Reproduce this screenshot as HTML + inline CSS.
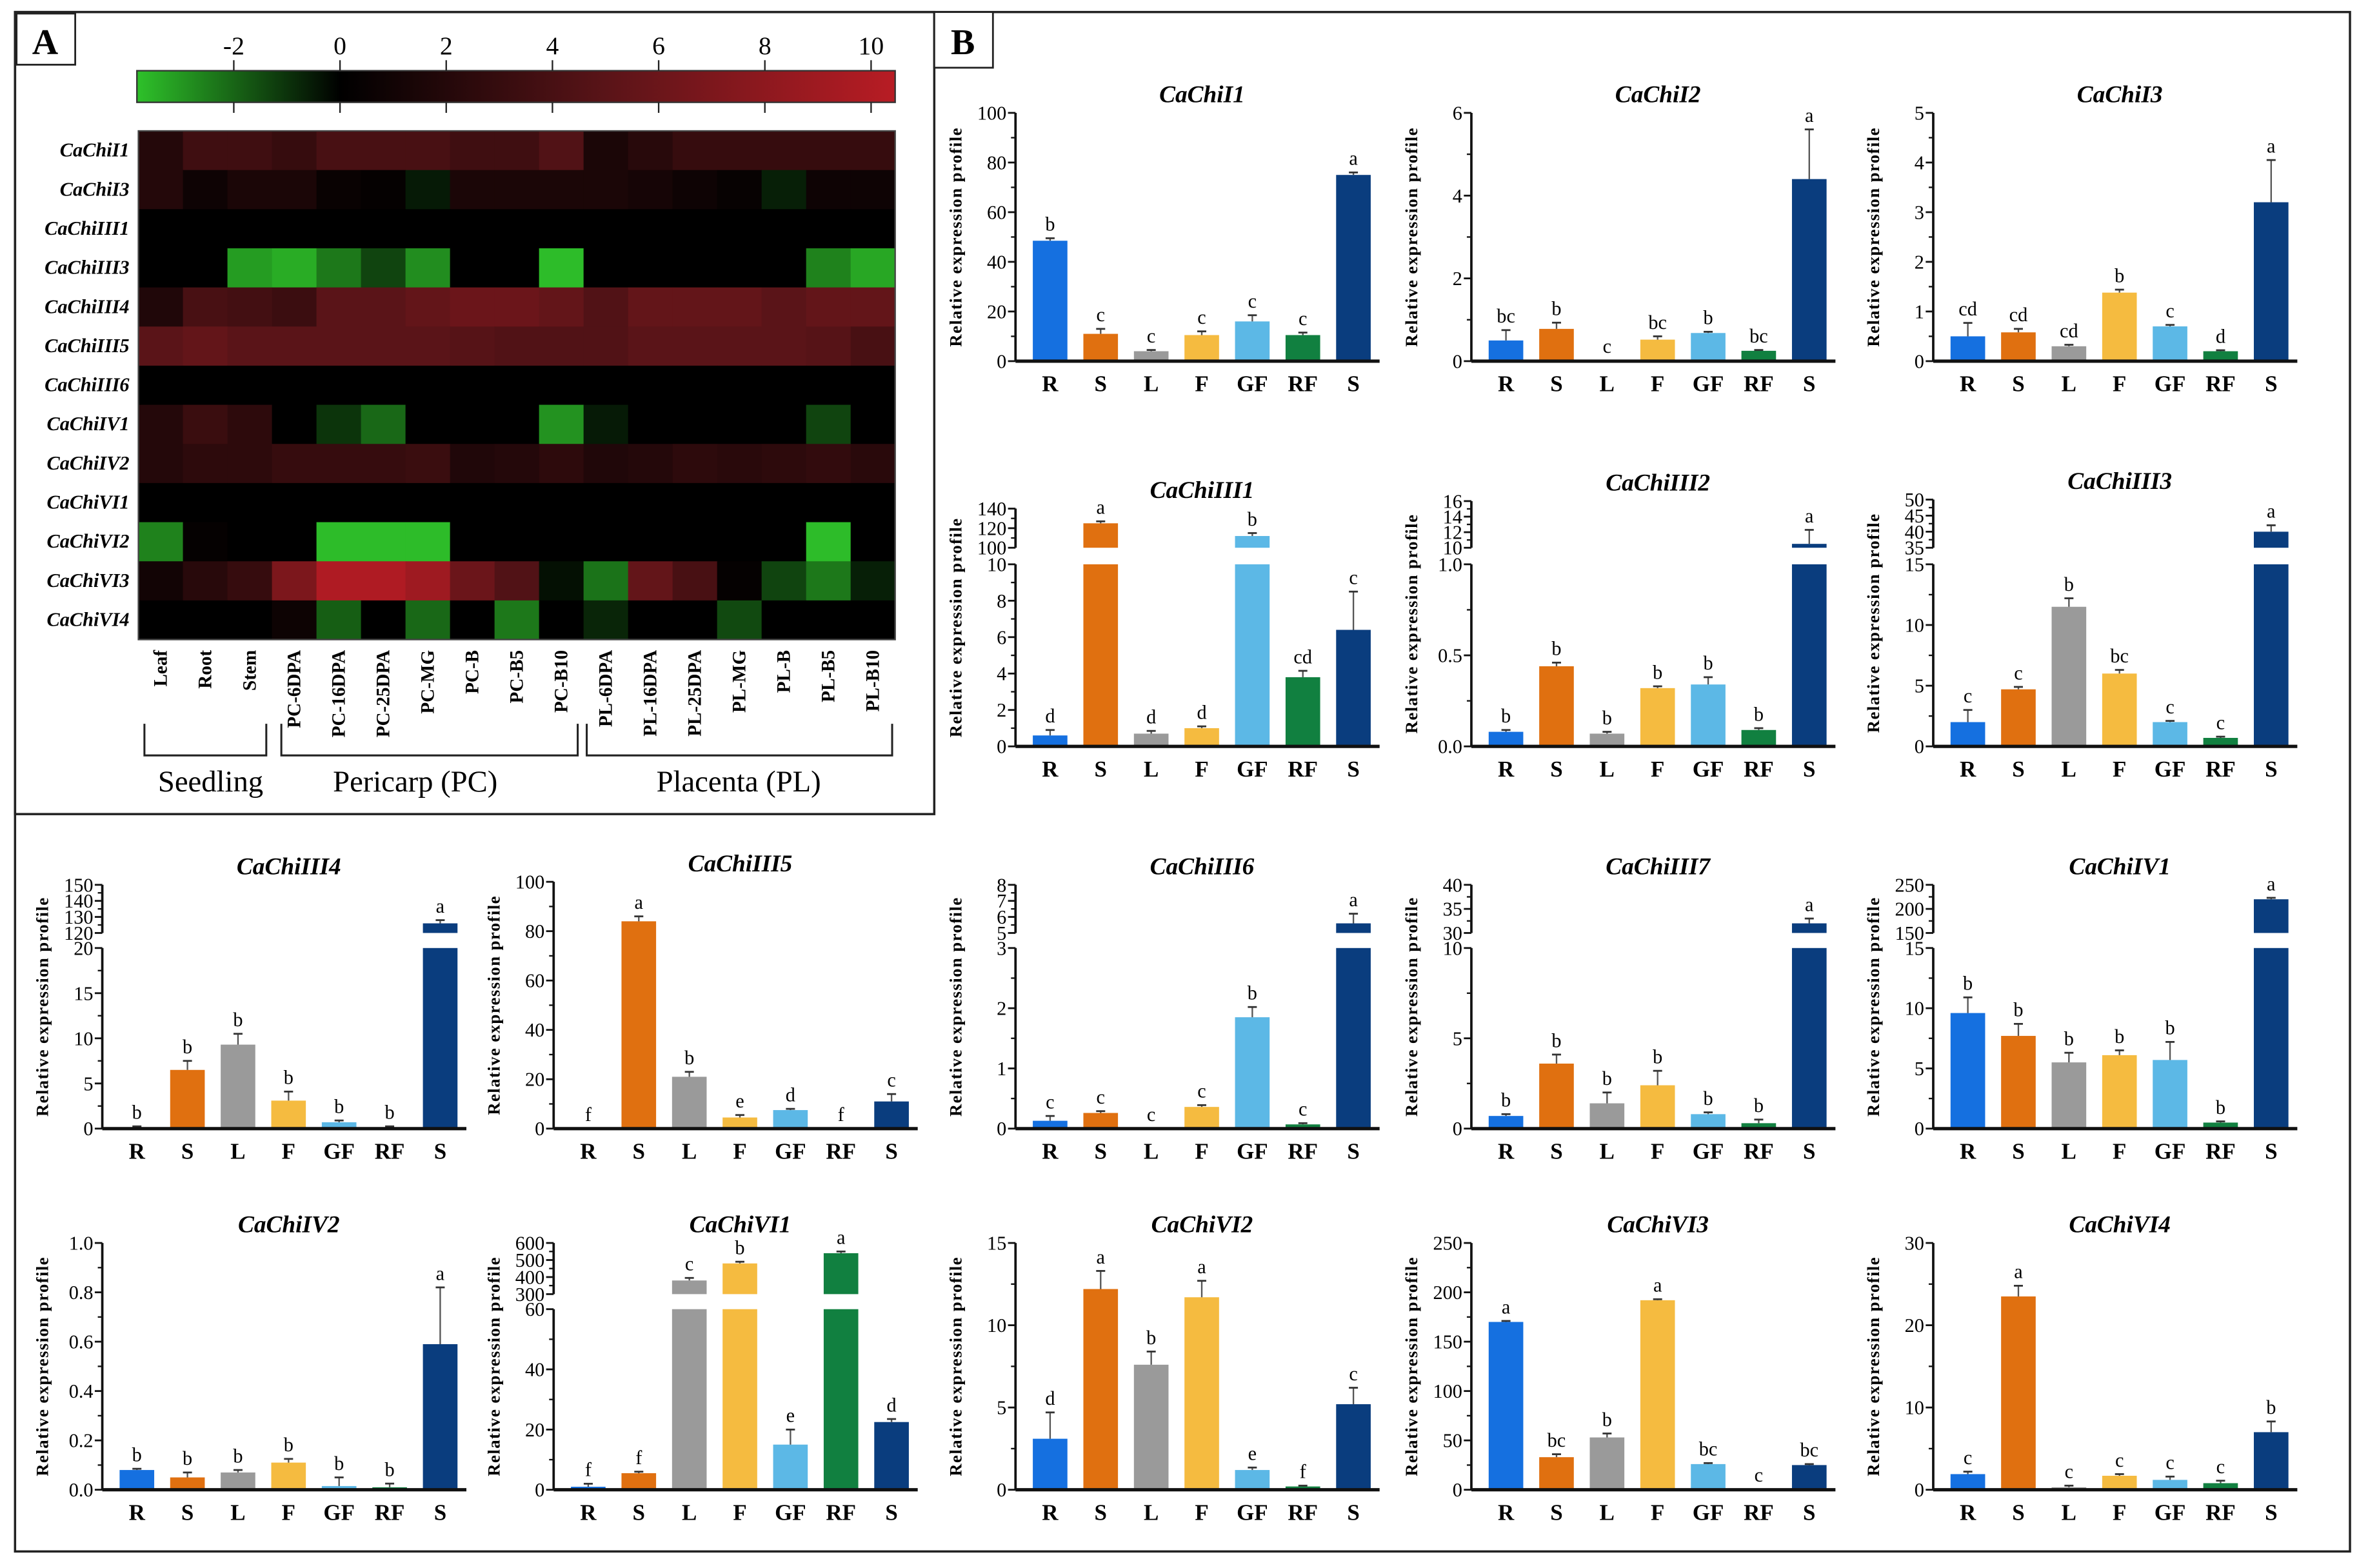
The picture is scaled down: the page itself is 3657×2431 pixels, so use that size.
<!DOCTYPE html>
<html><head><meta charset="utf-8">
<style>
html,body{margin:0;padding:0;background:#fff;}
svg{display:block;}
text{font-family:"Liberation Serif",serif;}
</style></head>
<body>
<svg id="fig" width="3657" height="2431" viewBox="0 0 1568 1042" preserveAspectRatio="none" xmlns="http://www.w3.org/2000/svg">
<defs>
<linearGradient id="cbar" x1="0" x2="1" y1="0" y2="0">
<stop offset="0" stop-color="#2ec12a"/>
<stop offset="0.268" stop-color="#000000"/>
<stop offset="0.62" stop-color="#5a1418"/>
<stop offset="1" stop-color="#b81c24"/>
</linearGradient>
</defs>
<rect x="10" y="8" width="1552" height="1023" fill="none" stroke="#222" stroke-width="1.5"/>
<rect x="10" y="8" width="611" height="533" fill="none" stroke="#222" stroke-width="1.5"/>
<rect x="11" y="9" width="39" height="34" fill="#fff" stroke="#222" stroke-width="1.2"/>
<text x="30" y="36" font-size="24" font-weight="bold" text-anchor="middle">A</text>
<rect x="621" y="8" width="39" height="37" fill="#fff" stroke="#222" stroke-width="1.2"/>
<text x="640" y="36" font-size="24" font-weight="bold" text-anchor="middle">B</text>
<rect x="91" y="47" width="504" height="21" fill="url(#cbar)" stroke="#333" stroke-width="1"/>
<g id="heat"></g>
<g id="charts"></g>
</svg>
<script>
const NS = "http://www.w3.org/2000/svg";
const heatRows = ["CaChiI1","CaChiI3","CaChiIII1","CaChiIII3","CaChiIII4","CaChiIII5","CaChiIII6","CaChiIV1","CaChiIV2","CaChiVI1","CaChiVI2","CaChiVI3","CaChiVI4"];
const heatCols = ["Leaf","Root","Stem","PC-6DPA","PC-16DPA","PC-25DPA","PC-MG","PC-B","PC-B5","PC-B10","PL-6DPA","PL-16DPA","PL-25DPA","PL-MG","PL-B","PL-B5","PL-B10"];
const heatValues = [
 [2,3.5,3.5,3,4,4,4,3.5,3.5,4.5,1.5,2.2,3,3,3,3,3],
 [2,0.8,1.5,1.5,0.5,0.3,-0.5,1.5,1.5,1.5,1.5,1.2,0.8,0.4,-0.6,0.8,0.8],
 [0,0,0,0,0,0,0,0,0,0,0,0,0,0,0,0,0],
 [0,0,-3,-3.3,-2.3,-1.3,-2.7,0,0,-3.6,0,0,0,0,0,-2.5,-3.2],
 [1.8,4,3.7,3.3,5,5,5.5,6,6,5.5,4.5,5.5,5.5,5.5,5,5.5,5.5],
 [5,5.5,5,5,5,5,5,4.8,4.5,4.5,4.5,5,5,5,5,4.8,4],
 [0,0,0,0,0,0,0,0,0,0,0,0,0,0,0,0,0],
 [2,3.2,2.5,0,-1,-2,0,0,0,-2.8,-0.5,0,0,0,0,-1.3,0],
 [2,2.5,2.5,3,3,3,3.2,1.8,2,2.5,1.8,2,2.5,2.3,2.5,2.8,2.3],
 [0,0,0,0,0,0,0,0,0,0,0,0,0,0,0,0,0],
 [-2.5,0.3,0,0,-3.6,-3.6,-3.6,0,0,0,0,0,0,0,0,-3.6,0],
 [1,2.2,3,7,10,10,9,6,4.5,-0.3,-2.2,5.5,4,0.3,-1.3,-2.3,-0.6],
 [0,0,0,0.7,-1.8,0,-2,0,-2.3,0,-0.7,0,0,-1.4,0,0,0]
];
const scaleTicks = [-2,0,2,4,6,8,10];

const xCats = ["R","S","L","F","GF","RF","S"];
const valsI1=[48.5,11,4,10.5,16,10.5,75], errI1=[1,2,0.5,1.5,2.5,1,1], letI1=["b","c","c","c","c","c","a"];
const valsI2=[0.5,0.78,0.02,0.52,0.68,0.25,4.4], errI2=[0.25,0.15,0,0.08,0.03,0.02,1.2], letI2=["bc","b","c","bc","b","bc","a"];
const valsI3=[0.5,0.58,0.3,1.38,0.7,0.2,3.2], errI3=[0.27,0.07,0.03,0.06,0.03,0.02,0.85], letI3=["cd","cd","cd","b","c","d","a"];
const valsIII1=[0.6,125,0.7,1.0,112,3.8,6.4], errIII1=[0.3,2,0.15,0.1,3,0.35,2.1], letIII1=["d","a","d","d","b","cd","c"];
const valsIII2=[0.08,0.44,0.07,0.32,0.34,0.09,10.5], errIII2=[0.01,0.02,0.01,0.01,0.04,0.01,1.8], letIII2=["b","b","b","b","b","b","a"];
const valsIII3=[2,4.7,11.5,6,2,0.7,40], errIII3=[1,0.2,0.7,0.3,0.1,0.1,2], letIII3=["c","c","b","bc","c","c","a"];
const valsIII4=[0.15,6.5,9.3,3.1,0.7,0.15,126], errIII4=[0.1,1,1.2,1,0.2,0.1,2], letIII4=["b","b","b","b","b","b","a"];
const valsIII5=[0,84,21,4.5,7.5,0,11], errIII5=[0,2,2,1,0.5,0,3], letIII5=["f","a","b","e","d","f","c"];
const valsIII6=[0.13,0.26,0,0.36,1.85,0.07,5.6], errIII6=[0.08,0.03,0,0.03,0.17,0.02,0.6], letIII6=["c","c","c","c","b","c","a"];
const valsIII7=[0.7,3.6,1.4,2.4,0.8,0.3,32], errIII7=[0.1,0.5,0.6,0.8,0.1,0.2,1], letIII7=["b","b","b","b","b","b","a"];
const valsIV1=[9.6,7.7,5.5,6.1,5.7,0.5,220], errIV1=[1.3,1,0.8,0.4,1.5,0.1,3], letIV1=["b","b","b","b","b","b","a"];
const valsIV2=[0.08,0.05,0.07,0.11,0.015,0.01,0.59], errIV2=[0.005,0.02,0.01,0.015,0.035,0.015,0.23], letIV2=["b","b","b","b","b","b","a"];
const valsVI1=[1,5.5,380,480,15,540,22.5], errVI1=[1,0.5,15,10,5,10,1], letVI1=["f","f","c","b","e","a","d"];
const valsVI2=[3.1,12.2,7.6,11.7,1.2,0.2,5.2], errVI2=[1.6,1.1,0.8,1.0,0.15,0.05,1], letVI2=["d","a","b","a","e","f","c"];
const valsVI3=[170,33,53,192,26,0.5,25], errVI3=[1,3,4,1,1,0,1], letVI3=["a","bc","b","a","bc","c","bc"];
const valsVI4=[1.9,23.5,0.3,1.7,1.2,0.8,7], errVI4=[0.3,1.3,0.2,0.2,0.4,0.3,1.3], letVI4=["c","a","c","c","c","c","b"];

const barColors=["#1570e0","#e07010","#9a9a9a","#f5bb40","#5cb8e6","#118040","#0a3d7e"];

function mk(tag, attrs, parent, txt){
  const el=document.createElementNS(NS,tag);
  for(const k in attrs) el.setAttribute(k,attrs[k]);
  if(txt!==undefined) el.textContent=txt;
  parent.appendChild(el);
  return el;
}
function lerp(a,b,t){return a+(b-a)*t;}
function mix(c1,c2,t){return "rgb("+[0,1,2].map(i=>Math.round(lerp(c1[i],c2[i],t))).join(",")+")";}
function heatColor(v){
  if(v<=0){const t=Math.min(1,-v/3.7);return mix([0,0,0],[46,193,42],t);}
  if(v<=5){return mix([0,0,0],[90,20,24],v/5);}
  return mix([90,20,24],[184,28,36],Math.min(1,(v-5)/5.5));
}

// ---------- Heatmap ----------
const heat=document.getElementById("heat");
const hx0=92,hx1=595,hy0=87,rowH=26;
const colW=(hx1-hx0)/heatCols.length;
const cbX=v=>226+v*35.3;
scaleTicks.forEach(t=>{
  const x=cbX(t);
  const tl=mk("line",{x1:x,x2:x,y1:40,y2:47,stroke:"#222","stroke-width":1},heat);
  
  
  const bl=mk("line",{x1:x,x2:x,y1:68,y2:75,stroke:"#222","stroke-width":1},heat);
  
  
  const tt=mk("text",{x:x,y:36,"font-size":17,"text-anchor":"middle"},heat,String(t));
  
  
});
heatValues.forEach((row,ri)=>{
  row.forEach((v,ci)=>{
    const r=mk("rect",{x:hx0+ci*colW,y:hy0+ri*rowH,width:colW+0.3,height:rowH+0.3,fill:heatColor(v)},heat);
    
    
  });
  const lb=mk("text",{x:86,y:hy0+ri*rowH+rowH/2+4,"font-size":13,"font-style":"italic","font-weight":"bold","text-anchor":"end"},heat,heatRows[ri]);
  
  
});
const hb=mk("rect",{x:hx0,y:hy0,width:hx1-hx0,height:rowH*heatRows.length,fill:"none",stroke:"#444","stroke-width":1},heat);


heatCols.forEach((c,ci)=>{
  const x=hx0+ci*colW+colW/2+4;
  const t=mk("text",{x:x,y:432,"font-size":12.5,"font-weight":"bold","text-anchor":"end",transform:"rotate(-90 "+x+" 432)"},heat,c);
  
  
});
[[96,177,"Seedling",140],[187,384,"Pericarp (PC)",276],[390,593,"Placenta (PL)",491]].forEach(g=>{
  const p=mk("path",{d:"M"+g[0]+" 481 V502 H"+g[1]+" V481",fill:"none",stroke:"#222","stroke-width":1.3},heat);
  
  
  const t=mk("text",{x:g[3],y:526,"font-size":20,"text-anchor":"middle"},heat,g[2]);
  
  
});

// ---------- Bar charts ----------
const charts=document.getElementById("charts");
const COLS=[68,368,675,978,1285];
const R1={yb:240,yt:75}, R2={yb:496,yt:375,yub:364,yut:335}, R3={yb:750,yt:630,yub:620,yut:588,full:586}, R4={yb:990,yt:870,yub:860,yut:826,full:826};
const chartDefs=[
 {t:"CaChiI1",ax:COLS[2],yb:R1.yb,yt:R1.yt,lmax:100,step:20,v:valsI1,e:errI1,l:letI1},
 {t:"CaChiI2",ax:COLS[3],yb:R1.yb,yt:R1.yt,lmax:6,step:2,v:valsI2,e:errI2,l:letI2},
 {t:"CaChiI3",ax:COLS[4],yb:R1.yb,yt:R1.yt,lmax:5,step:1,v:valsI3,e:errI3,l:letI3},
 {t:"CaChiIII1",ax:COLS[2],yb:R2.yb,yt:R2.yt,lmax:10,step:2,v:valsIII1,e:errIII1,l:letIII1,b:{umin:100,umax:140,step:20,yub:R2.yub,yut:338}},
 {t:"CaChiIII2",ax:COLS[3],yb:R2.yb,yt:R2.yt,lmax:1,step:0.5,dec:1,v:valsIII2,e:errIII2,l:letIII2,b:{umin:10,umax:16,step:2,yub:R2.yub,yut:333}},
 {t:"CaChiIII3",ax:COLS[4],yb:R2.yb,yt:R2.yt,lmax:15,step:5,v:valsIII3,e:errIII3,l:letIII3,b:{umin:35,umax:50,step:5,yub:R2.yub,yut:332}},
 {t:"CaChiIII4",ax:COLS[0],yb:R3.yb,yt:R3.yt,lmax:20,step:5,v:valsIII4,e:errIII4,l:letIII4,b:{umin:120,umax:150,step:10,yub:R3.yub,yut:R3.yut}},
 {t:"CaChiIII5",ax:COLS[1],yb:R3.yb,yt:R3.full,lmax:100,step:20,v:valsIII5,e:errIII5,l:letIII5},
 {t:"CaChiIII6",ax:COLS[2],yb:R3.yb,yt:R3.yt,lmax:3,step:1,v:valsIII6,e:errIII6,l:letIII6,b:{umin:5,umax:8,step:1,yub:R3.yub,yut:R3.yut}},
 {t:"CaChiIII7",ax:COLS[3],yb:R3.yb,yt:R3.yt,lmax:10,step:5,v:valsIII7,e:errIII7,l:letIII7,b:{umin:30,umax:40,step:5,yub:R3.yub,yut:R3.yut}},
 {t:"CaChiIV1",ax:COLS[4],yb:R3.yb,yt:R3.yt,lmax:15,step:5,v:valsIV1,e:errIV1,l:letIV1,b:{umin:150,umax:250,step:50,yub:R3.yub,yut:R3.yut}},
 {t:"CaChiIV2",ax:COLS[0],yb:R4.yb,yt:R4.full,lmax:1,step:0.2,dec:1,v:valsIV2,e:errIV2,l:letIV2},
 {t:"CaChiVI1",ax:COLS[1],yb:R4.yb,yt:R4.yt,lmax:60,step:20,v:valsVI1,e:errVI1,l:letVI1,b:{umin:300,umax:600,step:100,yub:R4.yub,yut:R4.yut}},
 {t:"CaChiVI2",ax:COLS[2],yb:R4.yb,yt:R4.full,lmax:15,step:5,v:valsVI2,e:errVI2,l:letVI2},
 {t:"CaChiVI3",ax:COLS[3],yb:R4.yb,yt:R4.full,lmax:250,step:50,v:valsVI3,e:errVI3,l:letVI3},
 {t:"CaChiVI4",ax:COLS[4],yb:R4.yb,yt:R4.full,lmax:30,step:10,v:valsVI4,e:errVI4,l:letVI4}
];

function fmt(v,dec){return dec?v.toFixed(dec):String(Math.round(v));}

function drawAxisSeg(g,ax,y0,y1,min,max,step,dec){
  const ln=mk("line",{x1:ax,x2:ax,y1:y0,y2:y1,stroke:"#111","stroke-width":1.6},g);
  
  
  const n=Math.round((max-min)/step);
  for(let i=0;i<=n;i++){
    const v=min+i*step, y=y0-(v-min)/(max-min)*(y0-y1);
    const tk=mk("line",{x1:ax-5,x2:ax,y1:y,y2:y,stroke:"#111","stroke-width":1.2},g);
    
    
    const tl=mk("text",{x:ax-6,y:y+4.5,"font-size":13,"text-anchor":"end"},g,fmt(v,dec));
    
    
    if(i<n){
      const ym=y-(y0-y1)/n/2;
      const mt=mk("line",{x1:ax-3,x2:ax,y1:ym,y2:ym,stroke:"#111","stroke-width":1},g);
      
      
    }
  }
}

chartDefs.forEach(c=>{
  const g=mk("g",{},charts);
  
  
  const top=c.b?c.b.yut:c.yt;
  const yOf=v=>{
    if(!c.b||v<=c.lmax) return c.yb-Math.min(v,c.lmax)/c.lmax*(c.yb-c.yt);
    return c.b.yub-(v-c.b.umin)/(c.b.umax-c.b.umin)*(c.b.yub-c.b.yut);
  };
  const tt=mk("text",{x:c.ax+124,y:top-7,"font-size":16,"font-style":"italic","font-weight":"bold","text-anchor":"middle"},g,c.t);
  
  
  const ylx=c.ax-36, yly=(c.yb+top)/2;
  const yl=mk("text",{x:ylx,y:yly,"font-size":11.5,"font-weight":"bold","text-anchor":"middle","letter-spacing":"0.6",transform:"rotate(-90 "+ylx+" "+yly+")"},g,"Relative expression profile");
  
  
  drawAxisSeg(g,c.ax,c.yb,c.yt,0,c.lmax,c.step,c.dec);
  if(c.b) drawAxisSeg(g,c.ax,c.b.yub,c.b.yut,c.b.umin,c.b.umax,c.b.step,0);
  c.v.forEach((v,i)=>{
    const cx=c.ax+23+i*33.6, w=23;
    let r;
    if(c.b&&v>c.lmax){
      r=mk("rect",{x:cx-w/2,y:c.yt,width:w,height:c.yb-c.yt,fill:barColors[i]},g);
      const r2=mk("rect",{x:cx-w/2,y:yOf(v),width:w,height:Math.max(1.5,c.b.yub-yOf(v)),fill:barColors[i]},g);
      
      
    } else {
      const y=yOf(v);
      r=mk("rect",{x:cx-w/2,y:y,width:w,height:Math.max(0.5,c.yb-y),fill:barColors[i]},g);
    }
    
    
    const ye=yOf(v+c.e[i]), yv=yOf(v);
    if(c.e[i]>0){
      const el=mk("line",{x1:cx,x2:cx,y1:yv,y2:ye,stroke:"#555","stroke-width":1},g);
      
      
      const ec=mk("line",{x1:cx-3,x2:cx+3,y1:ye,y2:ye,stroke:"#333","stroke-width":1.2},g);
      
      
    }
    const lt=mk("text",{x:cx,y:ye-5,"font-size":13,"text-anchor":"middle"},g,c.l[i]);
    
    
    const xl=mk("text",{x:cx,y:c.yb+20,"font-size":15,"font-weight":"bold","text-anchor":"middle"},g,xCats[i]);
    
    
  });
  const xa=mk("line",{x1:c.ax,x2:c.ax+242,y1:c.yb,y2:c.yb,stroke:"#111","stroke-width":2.2},g);
  
  
});
</script>
</body></html>
